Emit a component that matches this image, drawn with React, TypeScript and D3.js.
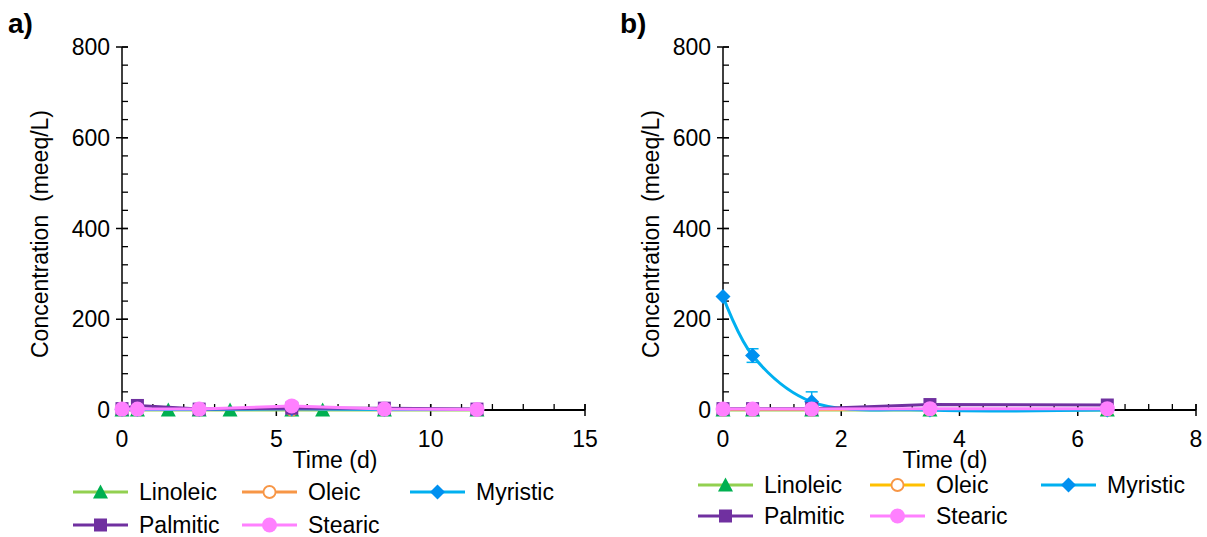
import React from 'react';
import * as d3 from 'd3';

// ---------- DATA ----------
const seriesNames = ['Linoleic', 'Oleic', 'Myristic', 'Palmitic', 'Stearic'];

const timesA = [0, 0.5, 2.5, 5.5, 8.5, 11.5];
const timesALinoleic = [0, 0.5, 1.5, 2.5, 3.5, 5.5, 6.5, 8.5, 11.5];
const linoleicA = [0, 0, 0, 0, 0, 0, 0, 0, 0];
const oleicA = [1, 1, 1, 1, 1, 1];
const myristicA = [1, 1, 1, 2, 1, 1];
const palmiticA = [3, 10, 2, 4, 4, 2];
const stearicA = [2, 2, 2, 9, 2, 1];
const stearicErrA = [0, 0, 0, 8, 0, 0];

const timesB = [0, 0.5, 1.5, 3.5, 6.5];
const linoleicB = [0, 0, 0, 0, 0];
const oleicB = [1, 1, 1, 1, 1];
const myristicB = [250, 120, 18, 0, 0];
const myristicErrB = [0, 15, 22, 0, 0];
const palmiticB = [3, 3, 3, 12, 11];
const stearicB = [2, 2, 2, 3, 3];

const yTicks = [0, 200, 400, 600, 800];
const xTicksA = [0, 5, 10, 15];
const xTicksB = [0, 2, 4, 6, 8];

const FONT = 'Liberation Sans, Arial, sans-serif';

type Series = {
  name: string;
  x: number[];
  y: number[];
  err?: number[];
  line: string;
  marker: string;
  shape: string;
  smooth?: boolean;
};

function Marker({ shape, cx, cy, color }: { shape: string; cx: number; cy: number; color: string }) {
  if (shape === 'triangle') {
    const s = 7.5;
    return <path d={`M${cx},${cy - s}L${cx + s},${cy + s * 0.85}L${cx - s},${cy + s * 0.85}Z`} fill={color} />;
  }
  if (shape === 'square') {
    return <rect x={cx - 6.5} y={cy - 6.5} width={13} height={13} fill={color} />;
  }
  if (shape === 'diamond') {
    const s = 7.5;
    return <path d={`M${cx},${cy - s}L${cx + s},${cy}L${cx},${cy + s}L${cx - s},${cy}Z`} fill={color} />;
  }
  if (shape === 'open') {
    return <circle cx={cx} cy={cy} r={6} fill="white" stroke={color} strokeWidth={1.8} />;
  }
  return <circle cx={cx} cy={cy} r={7.5} fill={color} />;
}

type PanelProps = {
  left: number; right: number; top: number; bottom: number;
  xMax: number; xMinor: number; xTicks: number[];
  label: string; labelX: number;
  yLabelX: number; timeLabelX: number;
  series: Series[];
  legendRows: number[]; legendCols: number[];
};

function Panel(p: PanelProps) {
  const x = d3.scaleLinear().domain([0, p.xMax]).range([p.left, p.right]);
  const y = d3.scaleLinear().domain([0, 800]).range([p.bottom, p.top]);
  const xMinorTicks = d3.range(0, p.xMax + 1e-9, p.xMinor);
  const yMinorTicks = d3.range(0, 800 + 1e-9, 40);

  return (
    <g>
      <text x={p.labelX} y={33} fontFamily={FONT} fontSize={28} fontWeight="bold">{p.label}</text>
      {/* axes */}
      <line x1={p.left} x2={p.left} y1={p.top} y2={p.bottom} stroke="black" strokeWidth={1.5} />
      <line x1={p.left} x2={p.right} y1={p.bottom} y2={p.bottom} stroke="black" strokeWidth={2} />
      {yMinorTicks.map((t) => (
        <line key={'ym' + t} x1={p.left} x2={p.left + 6} y1={y(t)} y2={y(t)} stroke="black" strokeWidth={1.3} />
      ))}
      {yTicks.map((t) => (
        <g key={'y' + t}>
          <line x1={p.left - 6} x2={p.left + 6} y1={y(t)} y2={y(t)} stroke="black" strokeWidth={1.5} />
          <text x={p.left - 12} y={y(t)} dy="0.35em" textAnchor="end" fontFamily={FONT} fontSize={23}>{t}</text>
        </g>
      ))}
      {xMinorTicks.map((t) => (
        <line key={'xm' + t} x1={x(t)} x2={x(t)} y1={p.bottom - 6} y2={p.bottom} stroke="black" strokeWidth={1.3} />
      ))}
      {p.xTicks.map((t) => (
        <g key={'x' + t}>
          <line x1={x(t)} x2={x(t)} y1={p.bottom - 6} y2={p.bottom + 6} stroke="black" strokeWidth={1.5} />
          <text x={x(t)} y={447} textAnchor="middle" fontFamily={FONT} fontSize={23}>{t}</text>
        </g>
      ))}
      <text transform={`translate(${p.yLabelX},${234}) rotate(-90)`} textAnchor="middle" fontFamily={FONT} fontSize={23} style={{ whiteSpace: 'pre' }}>
        {'Concentration  (meeq/L)'}
      </text>
      <text x={p.timeLabelX} y={468} textAnchor="middle" fontFamily={FONT} fontSize={23}>Time (d)</text>

      {/* series */}
      {p.series.map((s) => {
        const pts: [number, number][] = s.x.map((xv, i) => [x(xv), y(s.y[i])]);
        const gen = d3.line().curve(s.smooth ? d3.curveCatmullRom.alpha(0.5) : d3.curveLinear);
        return (
          <g key={s.name}>
            {s.err && s.err.map((e, i) => e > 0 ? (
              <g key={'e' + i}>
                <line x1={x(s.x[i])} x2={x(s.x[i])} y1={y(s.y[i] - e)} y2={y(s.y[i] + e)} stroke={s.line} strokeWidth={1.5} />
                <line x1={x(s.x[i]) - 6} x2={x(s.x[i]) + 6} y1={y(s.y[i] + e)} y2={y(s.y[i] + e)} stroke={s.line} strokeWidth={1.5} />
                <line x1={x(s.x[i]) - 6} x2={x(s.x[i]) + 6} y1={y(s.y[i] - e)} y2={y(s.y[i] - e)} stroke={s.line} strokeWidth={1.5} />
              </g>
            ) : null)}
            <path d={gen(pts) || ''} fill="none" stroke={s.line} strokeWidth={3} />
            {pts.map((pt, i) => (
              <Marker key={i} shape={s.shape} cx={pt[0]} cy={pt[1]} color={s.marker} />
            ))}
          </g>
        );
      })}

      {/* legend */}
      {p.series.map((s, i) => {
        const col = i % 3;
        const row = Math.floor(i / 3);
        const lx = p.legendCols[col];
        const ly = p.legendRows[row];
        return (
          <g key={'leg' + s.name}>
            <line x1={lx} x2={lx + 55} y1={ly} y2={ly} stroke={s.line} strokeWidth={3} />
            <Marker shape={s.shape} cx={lx + 27.5} cy={ly} color={s.marker} />
            <text x={lx + 66} y={ly} dy="0.35em" fontFamily={FONT} fontSize={23}>{s.name}</text>
          </g>
        );
      })}
    </g>
  );
}

export default function App() {
  const seriesA: Series[] = [
    { name: seriesNames[0], x: timesALinoleic, y: linoleicA, line: '#92D050', marker: '#00B050', shape: 'triangle' },
    { name: seriesNames[1], x: timesA, y: oleicA, line: '#F79646', marker: '#F79646', shape: 'open' },
    { name: seriesNames[2], x: timesA, y: myristicA, line: '#00B0F0', marker: '#0090F0', shape: 'diamond' },
    { name: seriesNames[3], x: timesA, y: palmiticA, line: '#7030A0', marker: '#7030A0', shape: 'square' },
    { name: seriesNames[4], x: timesA, y: stearicA, err: stearicErrA, line: '#FF80FF', marker: '#FF80FF', shape: 'circle' },
  ];
  const seriesB: Series[] = [
    { name: seriesNames[0], x: timesB, y: linoleicB, line: '#92D050', marker: '#00B050', shape: 'triangle' },
    { name: seriesNames[1], x: timesB, y: oleicB, line: '#FFC000', marker: '#F79646', shape: 'open' },
    { name: seriesNames[2], x: timesB, y: myristicB, err: myristicErrB, line: '#00B0F0', marker: '#0090F0', shape: 'diamond', smooth: true },
    { name: seriesNames[3], x: timesB, y: palmiticB, line: '#7030A0', marker: '#7030A0', shape: 'square' },
    { name: seriesNames[4], x: timesB, y: stearicB, line: '#FF80FF', marker: '#FF80FF', shape: 'circle' },
  ];
  return (
    <svg width={1207} height={537} style={{ position: 'absolute', left: 0, top: 0, background: 'white' }}>
      <rect width={1207} height={537} fill="white" />
      <Panel left={122} right={585} top={47} bottom={410} xMax={15} xMinor={1} xTicks={xTicksA}
        label="a)" labelX={8} yLabelX={48} timeLabelX={335} series={seriesA}
        legendRows={[492, 525]} legendCols={[73, 242, 410]} />
      <Panel left={723} right={1196} top={47} bottom={410} xMax={8} xMinor={0.4} xTicks={xTicksB}
        label="b)" labelX={620} yLabelX={659} timeLabelX={945} series={seriesB}
        legendRows={[485, 516]} legendCols={[698, 870, 1041]} />
    </svg>
  );
}
